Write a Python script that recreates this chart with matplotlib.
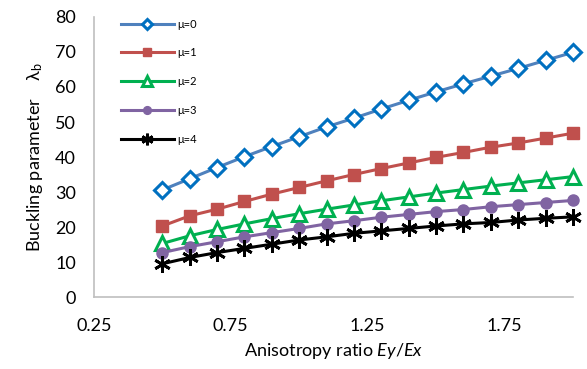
import numpy as np
import matplotlib
matplotlib.use("Agg")
import matplotlib.pyplot as plt

plt.rcParams["font.family"] = ["Lato", "DejaVu Sans"]
plt.rcParams["mathtext.fontset"] = "custom"
plt.rcParams["mathtext.rm"] = "Lato"
plt.rcParams["mathtext.it"] = "Lato:italic"

# anisotropy ratio Ey/Ex
ratio = [0.5, 0.6, 0.7, 0.8, 0.9, 1.0, 1.1, 1.2, 1.3, 1.4, 1.5, 1.6, 1.7, 1.8, 1.9, 2.0]

# buckling parameter for each mu
mu0 = [30.6, 33.8, 37.0, 40.1, 43.0, 45.8, 48.6, 51.1, 53.7, 56.2, 58.6, 60.9, 63.1, 65.3, 67.6, 69.9]
mu1 = [20.3, 23.2, 25.1, 27.3, 29.4, 31.3, 33.2, 35.0, 36.7, 38.3, 39.9, 41.3, 42.8, 44.0, 45.4, 46.8]
mu2 = [15.3, 17.5, 19.3, 20.9, 22.4, 23.8, 25.1, 26.3, 27.5, 28.6, 29.7, 30.7, 31.7, 32.6, 33.5, 34.4]
mu3 = [12.7, 14.4, 15.8, 17.2, 18.4, 19.6, 20.9, 21.8, 22.8, 23.6, 24.4, 25.0, 25.8, 26.4, 27.0, 27.6]
mu4 = [9.5, 11.3, 12.7, 13.9, 15.1, 16.3, 17.2, 18.2, 18.9, 19.6, 20.3, 20.9, 21.3, 22.0, 22.5, 22.9]

labels = ["μ=0", "μ=1", "μ=2", "μ=3", "μ=4"]

fig = plt.figure(figsize=(5.87, 3.69), dpi=100)
ax = fig.add_axes([0.160, 0.195, 0.816, 0.759])

ax.plot(ratio, mu0, color="#4F81BD", lw=2.2, marker="D", ms=8, mfc="white",
        mec="#0070C0", mew=2.2, label=labels[0], clip_on=False)
ax.plot(ratio, mu1, color="#C0504D", lw=2.2, marker="s", ms=8, mfc="#C0504D",
        mec="#C0504D", label=labels[1], clip_on=False)
ax.plot(ratio, mu2, color="#00B050", lw=2.2, marker="^", ms=10, mfc="white",
        mec="#00B050", mew=2.2, label=labels[2], clip_on=False)
ax.plot(ratio, mu3, color="#8064A2", lw=2.2, marker="o", ms=8, mfc="#8064A2",
        mec="#8064A2", label=labels[3], clip_on=False)
ax.plot(ratio, mu4, color="black", lw=2.2, marker=(6, 2, 0), ms=12,
        mec="black", mew=2, label=labels[4], clip_on=False)

ax.set_xlim(0.25, 2.0)
ax.set_ylim(0, 80)
ax.set_xticks([0.25, 0.75, 1.25, 1.75])
ax.set_xticklabels(["0.25", "0.75", "1.25", "1.75"])
ax.set_yticks(range(0, 81, 10))

for s in ["top", "right"]:
    ax.spines[s].set_visible(False)
for s in ["left", "bottom"]:
    ax.spines[s].set_color("#BFBFBF")
    ax.spines[s].set_linewidth(1.2)

ax.tick_params(axis="both", length=0, labelsize=13, colors="black")
ax.tick_params(axis="x", pad=15)
ax.tick_params(axis="y", pad=13)

ax.set_xlabel("Anisotropy ratio $\\mathit{Ey/Ex}$", fontsize=13, labelpad=5)
ax.set_ylabel("Buckling parameter    $\\mathregular{\\lambda_b}$", fontsize=13, labelpad=7)

leg = ax.legend(loc="upper left", bbox_to_anchor=(0.035, 1.03), frameon=False,
                fontsize=8, handlelength=4.8, labelspacing=1.6,
                markerscale=0.7, handletextpad=0.3)

fig.savefig("out.png", dpi=100)
